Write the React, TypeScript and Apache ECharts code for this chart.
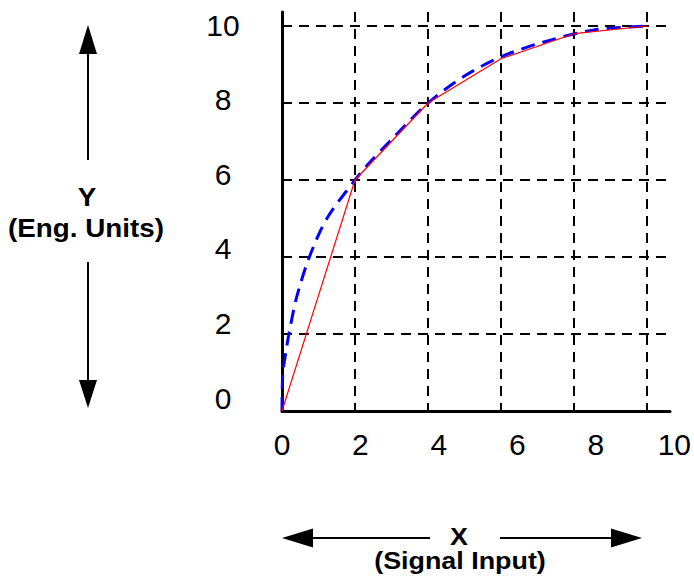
import React, { useEffect, useRef } from "react";
import * as echarts from "echarts";

// Tick labels
const xTickLabels = [0, 2, 4, 6, 8, 10];
const yTickLabels = [0, 2, 4, 6, 8, 10];

// Red (piecewise linear) series
const redX = [0, 2, 4, 6, 8, 10];
const redY = [0, 6, 8, 9.15, 9.8, 10];

// Blue dashed (smooth curve) series
const blueX = [0, 0.02, 0.1, 0.19, 0.4, 0.75, 1.23, 2, 2.35, 3, 4, 5, 6, 7.15, 8.55, 10];
const blueY = [0, 0.95, 1.5, 2, 2.95, 4, 5, 6, 6.4, 7.05, 8, 8.7, 9.2, 9.58, 9.9, 10];

const xTitle = "X";
const xSubTitle = "(Signal Input)";
const yTitle = "Y";
const ySubTitle = "(Eng. Units)";

export default function App() {
  const ref = useRef<HTMLDivElement>(null);

  useEffect(() => {
    if (!ref.current) return;
    const chart = echarts.init(ref.current, undefined, { renderer: "svg" });
    const dash = { type: [10, 7] as any, color: "#000", width: 2 };
    const titleFont = (size: number) => ({
      fontFamily: "Liberation Sans",
      fontWeight: "bold",
      fontSize: size,
      fill: "#000",
      x: 0,
      y: 0,
      align: "center",
      verticalAlign: "middle",
      textAlign: "center",
      textVerticalAlign: "middle",
    });
    const lineStyle = { stroke: "#000", lineWidth: 2 };
    chart.setOption({
      animation: false,
      backgroundColor: "#fff",
      grid: [
        { left: 282, top: 12, right: 24, bottom: 174, containLabel: false },
        { left: 282, top: 25, right: 16, bottom: 187, containLabel: false },
      ],
      xAxis: [
        {
          type: "value",
          gridIndex: 0,
          min: 0,
          max: 10.63,
          interval: 2,
          axisLine: { show: true, lineStyle: { color: "#000", width: 3 } },
          axisTick: { show: false },
          axisLabel: { show: false },
          splitLine: { show: true, showMinLine: false, showMaxLine: false, lineStyle: dash },
        },
        {
          type: "value",
          gridIndex: 1,
          min: 0,
          max: 10,
          interval: 2,
          axisLine: { show: false },
          axisTick: { show: false },
          splitLine: { show: false },
          axisLabel: {
            show: true,
            margin: 31,
            fontSize: 30,
            fontFamily: "Liberation Sans",
            color: "#000",
            formatter: (v: number) => (xTickLabels.includes(v) ? String(v) : ""),
          },
        },
      ],
      yAxis: [
        {
          type: "value",
          gridIndex: 0,
          min: 0,
          max: 10.364,
          interval: 2,
          axisLine: { show: true, lineStyle: { color: "#000", width: 3 } },
          axisTick: { show: false },
          axisLabel: { show: false },
          splitLine: { show: true, showMinLine: false, showMaxLine: false, lineStyle: dash },
        },
        {
          type: "value",
          gridIndex: 1,
          min: 0,
          max: 10,
          interval: 2,
          axisLine: { show: false },
          axisTick: { show: false },
          splitLine: { show: false },
          axisLabel: {
            show: true,
            margin: 59,
            align: "center",
            fontSize: 30,
            fontFamily: "Liberation Sans",
            color: "#000",
            formatter: (v: number) => (yTickLabels.includes(v) ? String(v) : ""),
          },
        },
      ],
      series: [
        {
          type: "line",
          xAxisIndex: 0,
          yAxisIndex: 0,
          data: blueX.map((x, i) => [x, blueY[i]]),
          showSymbol: false,
          smooth: 0.3,
          lineStyle: { color: "#0000ff", width: 3, type: [14, 8] },
          z: 3,
        },
        {
          type: "line",
          xAxisIndex: 0,
          yAxisIndex: 0,
          data: redX.map((x, i) => [x, redY[i]]),
          showSymbol: false,
          lineStyle: { color: "#ff0000", width: 1.2 },
          z: 4,
        },
      ],
      graphic: [
        // Y arrows
        { type: "line", shape: { x1: 88, y1: 160, x2: 88, y2: 50 }, style: lineStyle },
        { type: "polygon", shape: { points: [[88, 25], [79, 54], [97, 54]] }, style: { fill: "#000" } },
        { type: "line", shape: { x1: 88, y1: 262, x2: 88, y2: 384 }, style: lineStyle },
        { type: "polygon", shape: { points: [[88, 408], [79, 380], [97, 380]] }, style: { fill: "#000" } },
        { type: "text", x: 87, y: 197, scaleX: 1.07, style: { ...titleFont(26), text: yTitle } },
        { type: "text", x: 86, y: 228, scaleX: 1.07, style: { ...titleFont(26), text: ySubTitle } },
        // X arrows
        { type: "line", shape: { x1: 310, y1: 538, x2: 430, y2: 538 }, style: lineStyle },
        { type: "polygon", shape: { points: [[282, 538], [313, 528.5], [313, 547.5]] }, style: { fill: "#000" } },
        { type: "line", shape: { x1: 500, y1: 538, x2: 615, y2: 538 }, style: lineStyle },
        { type: "polygon", shape: { points: [[642, 538], [611, 528.5], [611, 547.5]] }, style: { fill: "#000" } },
        { type: "text", x: 459, y: 537, scaleX: 1.12, style: { ...titleFont(24), text: xTitle } },
        { type: "text", x: 460, y: 561, scaleX: 1.12, style: { ...titleFont(24), text: xSubTitle } },
      ],
    });
    return () => chart.dispose();
  }, []);

  return (
    <div
      ref={ref}
      style={{ position: "absolute", left: 0, top: 0, width: 694, height: 585 }}
    />
  );
}
